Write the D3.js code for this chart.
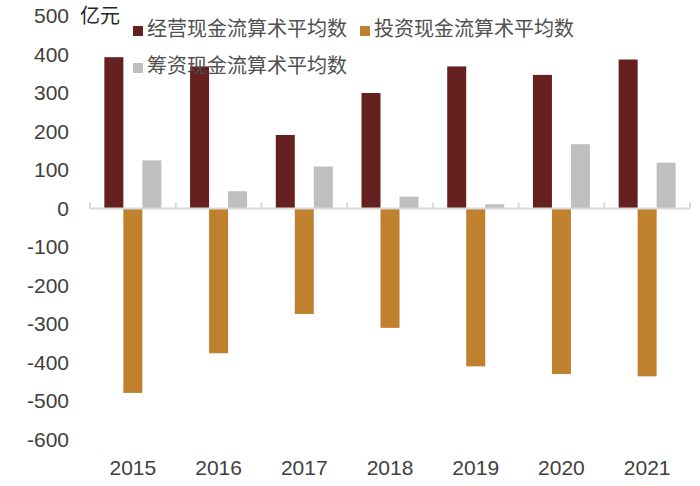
<!DOCTYPE html>
<html>
<head>
<meta charset="utf-8">
<script src="https://cdn.jsdelivr.net/npm/d3@7"></script>
<style>
  body { margin: 0; background: #fff; }
  svg text { font-family: "Liberation Sans", Arial, "Noto Sans CJK SC", sans-serif; }
</style>
</head>
<body>
<svg id="chart" width="700" height="486"></svg>
<script>
// years on the x axis
const years = ["2015", "2016", "2017", "2018", "2019", "2020", "2021"];
// series names (legend text)
const seriesNames = ["经营现金流算术平均数", "投资现金流算术平均数", "筹资现金流算术平均数"];
// values in 亿元
const operating = [393, 369, 191, 300, 369, 347, 387];
const investing = [-479, -376, -274, -310, -410, -430, -436];
const financing = [125, 45, 109, 31, 11, 167, 119];
const yTicks = [500, 400, 300, 200, 100, 0, -100, -200, -300, -400, -500, -600];

const colors = ["#65201f", "#c0812f", "#bfbfbf"];
const seriesValues = [operating, investing, financing];

const svg = d3.select("#chart");

// scales
const x = d3.scaleBand().domain(years).range([90, 690]).paddingInner(0.335).paddingOuter(0.1675);
const x1 = d3.scaleBand().domain(d3.range(3)).range([0, x.bandwidth()]);
const y = d3.scaleLinear().domain([-600, 500]).range([439.5, 16]);

// bars, one group per year
const groups = svg.append("g").selectAll("g")
  .data(years)
  .join("g")
  .attr("transform", d => `translate(${x(d)},0)`);

groups.selectAll("rect")
  .data((d, i) => seriesValues.map((vals, s) => ({ s, v: vals[i] })))
  .join("rect")
  .attr("x", d => x1(d.s))
  .attr("width", x1.bandwidth())
  .attr("y", d => y(Math.max(0, d.v)))
  .attr("height", d => Math.abs(y(d.v) - y(0)))
  .attr("fill", d => colors[d.s]);

// zero line with category boundary ticks pointing up
const zeroY = y(0);
const gap = (x.step() - x.bandwidth()) / 2;
const bounds = years.map(d => x(d) - gap).concat([x(years[years.length - 1]) + x.bandwidth() + gap]);
svg.append("line")
  .attr("x1", bounds[0]).attr("x2", bounds[bounds.length - 1])
  .attr("y1", zeroY).attr("y2", zeroY)
  .attr("stroke", "#d9d9d9").attr("stroke-width", 2);
svg.append("g").selectAll("line")
  .data(bounds)
  .join("line")
  .attr("x1", d => d).attr("x2", d => d)
  .attr("y1", zeroY).attr("y2", zeroY - 6)
  .attr("stroke", "#d9d9d9").attr("stroke-width", 2);

// y axis labels (plain hyphen for negatives)
const yAxis = svg.append("g")
  .attr("transform", "translate(69,0)")
  .call(d3.axisLeft(y).tickValues(yTicks).tickSize(0).tickPadding(0).tickFormat(d => String(d)));
yAxis.select(".domain").remove();
yAxis.selectAll("text").attr("font-size", 21).attr("fill", "#404040")
  .style("font-family", "'Liberation Sans', Arial, sans-serif");

// x axis labels
const xAxis = svg.append("g")
  .attr("transform", "translate(0,455)")
  .call(d3.axisBottom(x).tickSize(0).tickPadding(5));
xAxis.select(".domain").remove();
xAxis.selectAll("text").attr("font-size", 21).attr("fill", "#404040")
  .style("font-family", "'Liberation Sans', Arial, sans-serif");

// unit label
svg.append("text")
  .attr("x", 80).attr("y", 18)
  .attr("dominant-baseline", "middle")
  .attr("font-size", 20).attr("fill", "#262626")
  .text("亿元");

// legend
const legendPos = [[133, 31], [360, 31], [133, 68]];
const legend = svg.append("g").selectAll("g")
  .data(seriesNames)
  .join("g")
  .attr("transform", (d, i) => `translate(${legendPos[i][0]},${legendPos[i][1]})`);
legend.append("rect")
  .attr("x", 0).attr("y", -5).attr("width", 10).attr("height", 10)
  .attr("fill", (d, i) => colors[i]);
legend.append("text")
  .attr("x", 14).attr("y", 0)
  .attr("dominant-baseline", "middle")
  .attr("font-size", 20).attr("fill", "#505050")
  .style("font-family", "'Noto Sans CJK SC', sans-serif")
  .text(d => d);
</script>
</body>
</html>
